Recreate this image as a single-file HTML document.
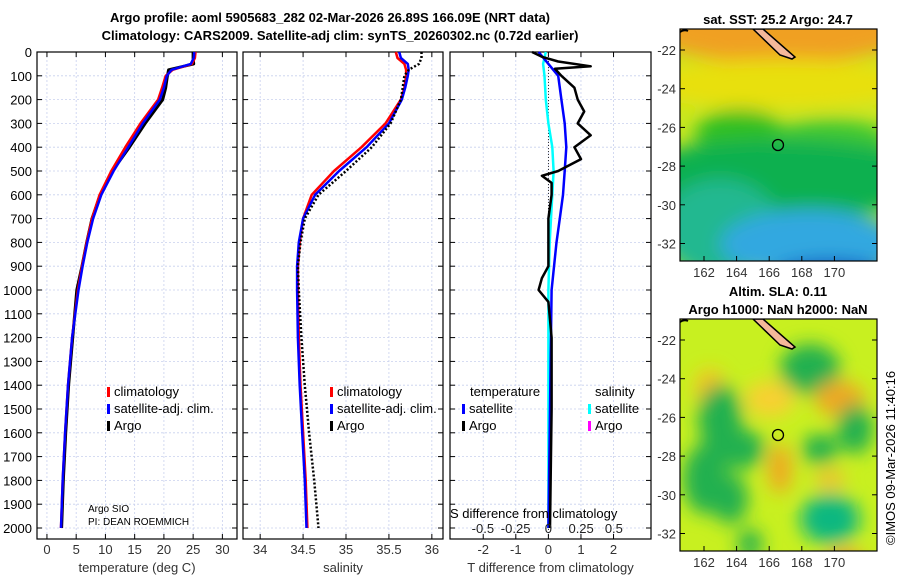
<!DOCTYPE html>
<html><head><meta charset="utf-8"><style>
body{margin:0;background:#fff;}
svg{display:block;font-family:"Liberation Sans","DejaVu Sans",sans-serif;}
</style></head><body>
<svg id="c" width="900" height="580" viewBox="0 0 900 580">
<defs>
<filter id="bl" x="-50%" y="-50%" width="200%" height="200%"><feGaussianBlur stdDeviation="9"/></filter>
<clipPath id="cm1"><rect x="680" y="29" width="197" height="232"/></clipPath>
<clipPath id="cm2"><rect x="680" y="319" width="197" height="232"/></clipPath>
</defs>
<text x="330" y="22" font-size="13" font-weight="bold" text-anchor="middle">Argo profile: aoml 5905683_282 02-Mar-2026 26.89S 166.09E (NRT data)</text>
<text x="340" y="40" font-size="13" font-weight="bold" text-anchor="middle">Climatology: CARS2009. Satellite-adj clim: synTS_20260302.nc (0.72d earlier)</text>
<g id="g"></g>
</svg>
<script>
const depths=[0,25,50,75,100,150,200,300,400,500,600,700,800,900,1000,1200,1400,1600,1800,2000];
const tClim=[25.4,25.3,24.8,21.5,20.3,19.7,19.0,16.0,13.4,11.0,9.0,7.7,6.8,6.0,5.3,4.3,3.6,3.1,2.7,2.4];
const tSat=[25.2,25.1,24.6,21.3,20.5,20.0,19.3,16.4,13.9,11.4,9.3,7.9,6.9,6.1,5.4,4.3,3.6,3.1,2.7,2.4];
const tArgo=[25.0,25.0,25.1,20.8,20.6,20.3,19.8,16.8,14.1,11.2,9.1,7.7,6.8,6.0,5.1,4.4,3.7,3.2,2.8,2.5];
const sClim=[35.58,35.6,35.68,35.7,35.7,35.68,35.64,35.46,35.18,34.86,34.6,34.5,34.46,34.44,34.44,34.45,34.47,34.5,34.53,34.55];
const sSat=[35.62,35.64,35.72,35.73,35.72,35.69,35.65,35.5,35.24,34.92,34.64,34.5,34.45,34.43,34.43,34.44,34.46,34.49,34.52,34.54];
const sArgo=[35.88,35.88,35.85,35.73,35.68,35.66,35.64,35.52,35.3,35.0,34.68,34.52,34.47,34.44,34.45,34.48,34.52,34.57,34.63,34.68];
const dDepthArgo=[0,20,40,60,70,100,150,200,250,300,350,400,450,500,520,550,600,700,800,900,950,1000,1050,1200,1500,2000];
const tDiffArgo=[-0.5,-0.2,0.3,1.3,0.2,0.4,0.8,0.9,1.1,0.9,1.3,0.8,1.0,0.3,-0.2,0.1,0.1,0,0,0,-0.2,-0.3,0,0.1,0.1,0.05];
const dDepthSat=[0,50,100,200,300,400,500,600,700,800,1000,1500,2000];
const tDiffSat=[-0.3,0,0.3,0.4,0.5,0.55,0.5,0.45,0.35,0.25,0.1,0.05,0];
const sDiffSat=[-0.02,-0.04,-0.03,-0.02,0.0,0.03,0.04,0.03,0.02,0.01,0.0,0.0,0.0];
const depthTicks=[0,100,200,300,400,500,600,700,800,900,1000,1100,1200,1300,1400,1500,1600,1700,1800,1900,2000];
const tTicks=[0,5,10,15,20,25,30];
const sTicks=[34,34.5,35,35.5,36];
const dTicks=[-2,-1,0,1,2];
const sdTicks=[-0.5,-0.25,0,0.25,0.5];
const latTicks=[-22,-24,-26,-28,-30,-32];
const lonTicks=[162,164,166,168,170];

const NS='http://www.w3.org/2000/svg';
const G=document.getElementById('g');
function el(t,a,p){const e=document.createElementNS(NS,t);for(const k in a)e.setAttribute(k,a[k]);(p||G).appendChild(e);return e;}
function txt(x,y,s,a,p){const e=el('text',Object.assign({x:x,y:y,'font-size':13},a||{}),p);e.textContent=s;return e;}
const Y0=52,Y1=539;
const yD=d=>Y0+d*0.238;
const panels=[
 {x0:37,x1:237,lo:-1.7,hi:32.5,ticks:tTicks,name:'temperature-panel',lab:'temperature (deg C)'},
 {x0:243,x1:443,lo:33.8,hi:36.13,ticks:sTicks,name:'salinity-panel',lab:'salinity'},
 {x0:450,x1:651,lo:-3.02,hi:3.15,ticks:dTicks,name:'difference-panel',lab:'T difference from climatology'}];
panels.forEach((P,i)=>{
 P.sx=v=>P.x0+(v-P.lo)/(P.hi-P.lo)*(P.x1-P.x0);
 const g=el('g',{});
 
 
 depthTicks.forEach(d=>{el('line',{x1:P.x0,x2:P.x1,y1:yD(d),y2:yD(d),stroke:'#c8d0ee','stroke-width':0.8,'stroke-dasharray':'2,2'},g);
   el('line',{x1:P.x0,x2:P.x0+5,y1:yD(d),y2:yD(d),stroke:'#000'},g);el('line',{x1:P.x1,x2:P.x1-5,y1:yD(d),y2:yD(d),stroke:'#000'},g);
   if(i==0){const t=txt(32,yD(d)+5,String(d),{'text-anchor':'end'},g);}});
 P.ticks.forEach(v=>{const x=P.sx(v);el('line',{x1:x,x2:x,y1:Y0,y2:Y1,stroke:'#c8d0ee','stroke-width':0.8,'stroke-dasharray':'2,2'},g);
   el('line',{x1:x,x2:x,y1:Y1,y2:Y1-5,stroke:'#000'},g);el('line',{x1:x,x2:x,y1:Y0,y2:Y0+5,stroke:'#000'},g);
   const t=txt(x,554,String(v),{'text-anchor':'middle','fill':'#333'},g);});
 el('rect',{x:P.x0,y:Y0,width:P.x1-P.x0,height:Y1-Y0,fill:'none',stroke:'#000','stroke-width':1.2},g);
 const t=txt((P.x0+P.x1)/2,572,P.lab,{'text-anchor':'middle','fill':'#333'},g);
});
function line(P,dep,vals,col,w,dash,name,sx){
 const f=sx||P.sx;const pts=dep.map((d,i)=>f(vals[i]).toFixed(1)+','+yD(d).toFixed(1)).join(' ');
 const e=el('polyline',{points:pts,fill:'none',stroke:col,'stroke-width':w,'stroke-dasharray':dash||'none','stroke-linejoin':'round'});
 }
line(panels[0],depths,tArgo,'#000',3,null,'temp-argo-line');
line(panels[0],depths,tClim,'#f00',2.5,null,'temp-climatology-line');
line(panels[0],depths,tSat,'#00f',2.5,null,'temp-satellite-line');
line(panels[1],depths,sClim,'#f00',2.5,null,'sal-climatology-line');
line(panels[1],depths,sSat,'#00f',2.5,null,'sal-satellite-line');
line(panels[1],depths,sArgo,'#000',2.5,'2,2','sal-argo-line');
el('line',{x1:panels[2].sx(0),x2:panels[2].sx(0),y1:Y0,y2:Y1,stroke:'#000','stroke-width':0.8,'stroke-dasharray':'1,2'});
const sDiffX=v=>panels[2].sx(0)+v*131;
line(panels[2],dDepthSat,sDiffSat,'#0ff',2.5,null,'sal-diff-satellite-line',sDiffX);
line(panels[2],dDepthSat,tDiffSat,'#00f',2.5,null,'temp-diff-satellite-line');
line(panels[2],dDepthArgo,tDiffArgo,'#000',2.5,null,'temp-diff-argo-line');
function leg(x,y,col,s,name){const g=el('g',{});
 if(col)el('rect',{x:x,y:y-9,width:3,height:10,fill:col},g);txt(x+7,y,s,{},g);}
leg(107,396,'#f00','climatology','legend-climatology');
leg(107,413,'#00f','satellite-adj. clim.','legend-satellite');
leg(107,430,'#000','Argo','legend-argo');
leg(330,396,'#f00','climatology','legend-sal-climatology');
leg(330,413,'#00f','satellite-adj. clim.','legend-sal-satellite');
leg(330,430,'#000','Argo','legend-sal-argo');
leg(463,396,null,'temperature','legend-temp-header');
leg(462,413,'#00f','satellite','legend-tdiff-satellite');
leg(462,430,'#000','Argo','legend-tdiff-argo');
leg(588,396,null,'salinity','legend-sal-header');
leg(588,413,'#0ff','satellite','legend-sdiff-satellite');
leg(588,430,'#f0f','Argo','legend-sdiff-argo');
txt(88,512,'Argo SIO',{'font-size':10});
txt(88,525,'PI: DEAN ROEMMICH',{'font-size':10});
txt(450,518,'S difference from climatology',{'font-size':13});
sdTicks.forEach(v=>{const t=txt(sDiffX(v),533,String(v),{'text-anchor':'middle','fill':'#222'});});
function map(y0,ttl,blobs,base,name){
 const g=el('g',{'clip-path':'url(#cm'+(y0<100?1:2)+')'});
 el('rect',{x:680,y:y0,width:197,height:232,fill:base},g);
 const gb=el('g',{filter:'url(#bl)'},g);
 blobs.forEach(b=>el('ellipse',{cx:680+b[0],cy:y0+b[1],rx:b[2],ry:b[3],fill:b[4]},gb));
 el('path',{d:`M${680+73} ${y0} L${680+83} ${y0} L${680+115} ${y0+28} L${680+112} ${y0+30} L${680+100} ${y0+26} Z`,fill:'#f5b89a',stroke:'#000','stroke-width':1.5},g);
 el('path',{d:`M680 ${y0+3} Q684 ${y0} 688 ${y0+2}`,fill:'none',stroke:'#000','stroke-width':2},g);
 el('circle',{cx:778,cy:y0+116,r:5.5,fill:'none',stroke:'#000','stroke-width':1.3},g);
 el('rect',{x:680,y:y0,width:197,height:232,fill:'none',stroke:'#000','stroke-width':1.2});
 latTicks.forEach((l,i)=>{const y=y0+21+i*38.7;el('line',{x1:680,x2:685,y1:y,y2:y,stroke:'#000'});el('line',{x1:877,x2:872,y1:y,y2:y,stroke:'#000'});
   txt(676,y+5,String(l),{'text-anchor':'end','fill':'#333'});});
 lonTicks.forEach((l,i)=>{const x=704+i*32.6;el('line',{x1:x,x2:x,y1:y0+232,y2:y0+227,stroke:'#000'});
   txt(x,y0+232+16,String(l),{'text-anchor':'middle','fill':'#333'});});
 ttl.forEach((t,i)=>{const e=txt(778,y0-(ttl.length-i-1)*18-5,t,{'text-anchor':'middle','font-weight':'bold'});});
}
map(29,['sat. SST: 25.2 Argo: 24.7'],[
 [100,-20,160,55,'#f0a020'],[100,55,150,25,'#e8e010'],[60,105,45,25,'#30c020'],[150,110,60,20,'#40c830'],
 [100,150,160,40,'#10b050'],[40,200,60,50,'#20b890'],[130,215,90,35,'#30a8e0'],[150,245,55,14,'#1050c0']],'#c8e820','sst-map');
map(319,['Altim. SLA: 0.11','Argo h1000: NaN h2000: NaN'],[
 [30,70,15,20,'#f8c020'],[40,100,22,35,'#20b050'],[25,160,22,35,'#20b050'],[50,180,18,25,'#20b050'],
 [130,50,30,25,'#20b050'],[160,80,25,18,'#f0a820'],[90,80,25,18,'#f8d030'],[100,150,12,25,'#f0a820'],
 [150,200,30,25,'#10b880'],[60,130,25,20,'#20b050'],[140,130,18,15,'#20b050'],[175,110,18,25,'#20b050'],
 [165,245,20,15,'#f0a020'],[70,225,12,15,'#20b050'],[150,160,15,10,'#f0c030']],'#c8f020','sla-map');
const ct=txt(0,0,'©IMOS 09-Mar-2026 11:40:16',{'font-size':13,transform:'translate(895,545) rotate(-90)'});

</script>
</body></html>
